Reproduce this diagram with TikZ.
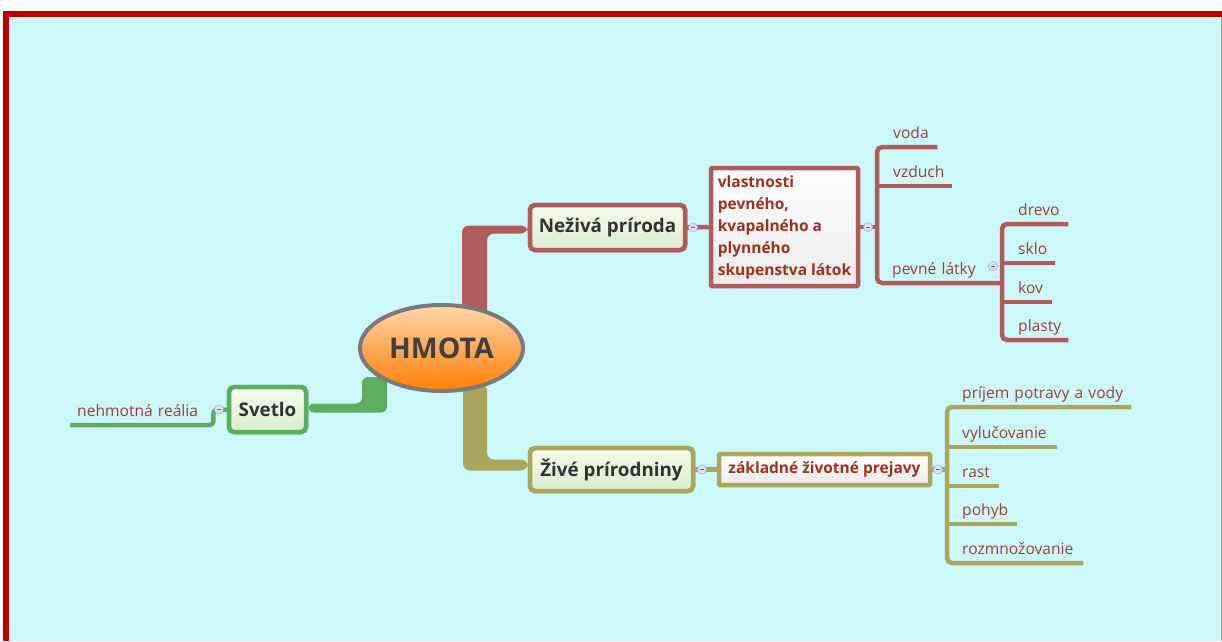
\documentclass[tikz,border=0pt]{standalone}
\usepackage{fontspec}
\setmainfont{Open Sans}
\usetikzlibrary{shapes.geometric}

\definecolor{bgcyan}{RGB}{204,248,250}
\definecolor{framered}{RGB}{192,0,0}
\definecolor{brred}{RGB}{176,92,92}
\definecolor{brolive}{RGB}{170,166,92}
\definecolor{brgreen}{RGB}{94,172,94}
\definecolor{leaftext}{RGB}{160,64,52}
\definecolor{subtext}{RGB}{160,48,26}
\definecolor{maintext}{RGB}{50,50,50}
\definecolor{knobfill}{RGB}{222,226,250}
\definecolor{knobdraw}{RGB}{176,182,230}
\definecolor{topictop}{RGB}{247,252,238}
\definecolor{topicbot}{RGB}{216,237,204}

\tikzset{
  topic/.style={rounded corners=5pt, line width=4.5pt, inner sep=0pt,
    top color=topictop, bottom color=topicbot, text=maintext,
    font=\fontsize{18.8}{22}\selectfont\bfseries},
  subtopic/.style={line width=4.5pt, inner sep=0pt, rounded corners=1pt,
    top color=white, bottom color=black!8, text=subtext, align=left,
    font=\fontsize{15.5}{22}\selectfont\bfseries},
  leaf/.style={anchor=south west, inner sep=0pt, text depth=8.5pt, align=left,
    text=leaftext, font=\fontsize{15.6}{18}\selectfont},
  redline/.style={draw=brred, line width=4.5pt, rounded corners=5pt},
  oliveline/.style={draw=brolive, line width=4.5pt, rounded corners=5pt},
  greenline/.style={draw=brgreen, line width=4.5pt, rounded corners=4pt},
  knob/.style={circle, draw=knobdraw, fill=knobfill, line width=0.7pt,
    minimum size=9pt, inner sep=0pt,
    path picture={\draw[knobdraw!60!black, line width=0.6pt]
      ([xshift=-2pt]path picture bounding box.center) --
      ([xshift=2pt]path picture bounding box.center);}}
}

\begin{document}
\begin{tikzpicture}[x=1pt,y=-1pt]
% page, frame and canvas
\fill[white] (0,0) rectangle (1222,641);
\useasboundingbox (0,0) rectangle (1222,641);
\fill[framered] (3,11) rectangle (1222,641);
\fill[bgcyan] (9,17) rectangle (1221,641);
\draw[black!35, line width=1pt] (1221.5,17) -- (1221.5,641);

% topic nodes
\node[topic, draw=brred, minimum width=155pt, minimum height=45pt] (neziva) at (607.5,227.5) {Neživá príroda};
\node[topic, draw=brolive, minimum width=163pt, minimum height=43pt] (zive) at (611.5,469.5) {Živé prírodniny};
\node[topic, draw=brgreen, minimum width=77pt, minimum height=45pt] (svetlo) at (267.5,409.5) {Svetlo};

% thick branches from the central topic
\fill[brred, rounded corners=7pt] (462,318) |- ([yshift=2pt]neziva.west) -- ([yshift=-6pt]neziva.west) -| (487,318) -- cycle;
\fill[brolive, rounded corners=7pt] (463,384) |- ([yshift=-1pt]zive.west) -- ([yshift=10pt]zive.west) -| (487,384) -- cycle;
\fill[brgreen, rounded corners=6pt] (362,377) |- ([yshift=6pt]svetlo.east) -- ([yshift=-3pt]svetlo.east) -| (387,377) -- cycle;

% central topic
\node[ellipse, draw=black!52, line width=4pt, minimum width=163pt, minimum height=86pt,
  inner sep=0pt, top color={rgb,255:red,255;green,214;blue,170},
  bottom color={rgb,255:red,255;green,128;blue,0},
  middle color={rgb,255:red,255;green,170;blue,90},
  text={rgb,255:red,64;green,64;blue,64}, font=\fontsize{28.5}{30}\selectfont\bfseries] (hmota) at (441.5,348) {HMOTA};

% redraw topic nodes above the branches
\node[topic, draw=brred, minimum width=155pt, minimum height=45pt] at (neziva) {Neživá príroda};
\node[topic, draw=brolive, minimum width=163pt, minimum height=43pt] at (zive) {Živé prírodniny};
\node[topic, draw=brgreen, minimum width=77pt, minimum height=45pt] at (svetlo) {Svetlo};

% subtopics
\node[subtopic, draw=brred, minimum width=147pt, minimum height=118pt] (vlast) at (784.5,227)
  {vlastnosti\\pevného,\\kvapalného a\\plynného\\skupenstva látok};
\node[subtopic, draw=brolive, minimum width=211pt, minimum height=31pt] (prejavy) at (824.5,469.5)
  {základné životné prejavy};

% leaves of the first branch
\node[leaf, text width=60pt] (voda) at (877,147) {\hspace*{16pt}voda};
\node[leaf, text width=75pt] (vzduch) at (877,186) {\hspace*{16pt}vzduch};
\node[leaf, text width=125pt] (pevne) at (877,283) {\hspace*{15pt}pevné látky};
\node[leaf, text width=66pt] (drevo) at (1002,224) {\hspace*{16pt}drevo};
\node[leaf, text width=53pt] (sklo) at (1002,263) {\hspace*{16pt}sklo};
\node[leaf, text width=50pt] (kov) at (1002,302) {\hspace*{16pt}kov};
\node[leaf, text width=66pt] (plasty) at (1002,340) {\hspace*{16pt}plasty};

% leaves of the second branch
\node[leaf, text width=184pt] (prijem) at (947,407) {\hspace*{15pt}príjem potravy a vody};
\node[leaf, text width=110pt] (vylucovanie) at (947,447) {\hspace*{15pt}vylučovanie};
\node[leaf, text width=52pt] (rast) at (947,486) {\hspace*{15pt}rast};
\node[leaf, text width=70pt] (pohyb) at (947,524) {\hspace*{15pt}pohyb};
\node[leaf, text width=136pt] (rozmnozovanie) at (947,563) {\hspace*{15pt}rozmnožovanie};

% leaf of the third branch
\node[leaf, text width=143pt] (nehmotna) at (70,425) {\hspace*{7pt}nehmotná reália};

% connectors
\draw[redline] (neziva.east) -- (vlast.west);
\draw[redline] (vlast.east) -- (vlast.east -| voda.south west);
\draw[redline] (voda.south east) -- (voda.south west) -- (pevne.south west) -- (pevne.south east);
\draw[redline] (vzduch.south west) -- (vzduch.south east);
\draw[redline] (drevo.south east) -- (drevo.south west) -- (plasty.south west) -- (plasty.south east);
\draw[redline] (sklo.south west) -- (sklo.south east);
\draw[redline] (kov.south west) -- (kov.south east);

\draw[oliveline] (zive.east) -- (prejavy.west);
\draw[oliveline] (prejavy.east) -- (prejavy.east -| prijem.south west);
\draw[oliveline] (prijem.south east) -- (prijem.south west) -- (rozmnozovanie.south west) -- (rozmnozovanie.south east);
\draw[oliveline] (vylucovanie.south west) -- (vylucovanie.south east);
\draw[oliveline] (rast.south west) -- (rast.south east);
\draw[oliveline] (pohyb.south west) -- (pohyb.south east);

\draw[greenline] (svetlo.west) -| (nehmotna.south east) -- (nehmotna.south west);

% collapse knobs
\node[knob] (k1) at (693,227.5) {};
\node[knob] (k2) at (868,227) {};
\node[knob] (k3) at (993,266) {};
\node[knob] (k4) at (702,469.5) {};
\node[knob] (k5) at (938,469.5) {};
\node[knob] (k6) at (219,409.5) {};
\end{tikzpicture}
\end{document}
